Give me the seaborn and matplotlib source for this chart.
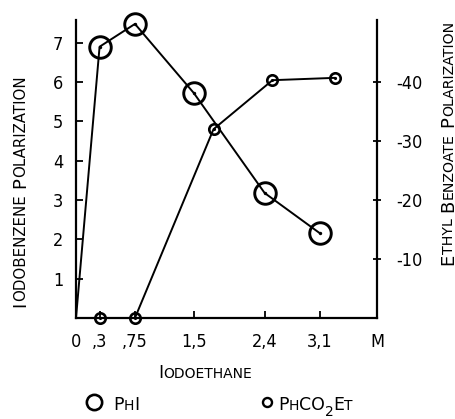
import matplotlib
matplotlib.use("Agg")
import matplotlib.pyplot as plt
import seaborn as sns
import pandas as pd
from matplotlib import font_manager
from matplotlib.lines import Line2D

# Iodobenzene polarization (left axis) vs. iodoethane concentration
conc_phi = [0, 0.3, 0.75, 1.5, 2.4, 3.1]
pol_phi = [0, 6.9, 7.48, 5.72, 3.18, 2.16]

# Ethyl benzoate polarization (right axis, negative values)
conc_ester = [0.3, 0.75, 1.75, 2.5, 3.3]
pol_ester = [0, 0, -32, -40.3, -40.7]

x_ticks = [0, 0.3, 0.75, 1.5, 2.4, 3.1]
x_tick_labels = ["0", ",3", ",75", "1,5", "2,4", "3,1"]
unit_label = "M"
left_ticks = [1, 2, 3, 4, 5, 6, 7]
right_ticks = [-10, -20, -30, -40]

W, H = 456, 419
X_MAX = 3.83

sns.set_style("ticks")
available = {f.name for f in font_manager.fontManager.ttflist}
tick_font = "Liberation Sans Narrow" if "Liberation Sans Narrow" in available else "DejaVu Sans"
plt.rcParams["font.family"] = [tick_font, "DejaVu Sans"]
plt.rcParams["font.stretch"] = "condensed"
plt.rcParams["axes.unicode_minus"] = False
LABEL_FONT = "DejaVu Sans"

fig = plt.figure(figsize=(W / 100, H / 100), dpi=100)
ax = fig.add_axes([76 / W, 1 - 318 / H, 301 / W, 298 / H])
ax2 = ax.twinx()

df_phi = pd.DataFrame({"conc": conc_phi, "pol": pol_phi})
df_est = pd.DataFrame({"conc": conc_ester, "pol": pol_ester})

sns.lineplot(data=df_phi, x="conc", y="pol", ax=ax, color="black", lw=1.4,
             estimator=None, errorbar=None, marker="o",
             markevery=list(range(1, len(conc_phi))), ms=15.5, mfc="none",
             mec="black", mew=2.1, clip_on=False, zorder=3)
sns.scatterplot(x=conc_phi[1:], y=pol_phi[1:], ax=ax, s=6, color="black",
                linewidth=0, clip_on=False, zorder=4)

sns.lineplot(data=df_est, x="conc", y="pol", ax=ax2, color="black", lw=1.4,
             estimator=None, errorbar=None, marker="o", ms=7.5, mfc="none",
             mec="black", mew=1.9, clip_on=False, zorder=3)
sns.scatterplot(x=conc_ester, y=pol_ester, ax=ax2, s=5, color="black",
                linewidth=0, clip_on=False, zorder=4)

ax.set_xlim(0, X_MAX)
ax.set_ylim(0, 7.58)
ax2.set_ylim(0, -50.5)

ax.set_xticks(x_ticks + [X_MAX], x_tick_labels + [unit_label])
ax.set_yticks(left_ticks, [str(v) for v in left_ticks])
ax2.set_yticks(right_ticks, [str(v) for v in right_ticks])
ax.set_xlabel("")
ax.set_ylabel("")
ax2.set_ylabel("")

for name in ("top", "right"):
    ax.spines[name].set_visible(False)
for name in ("top", "left", "bottom"):
    ax2.spines[name].set_visible(False)
for sp in (ax.spines["left"], ax.spines["bottom"], ax2.spines["right"]):
    sp.set_linewidth(1.6)
    sp.set_color("black")

ax.tick_params(axis="y", direction="in", length=5, width=1.3, pad=9,
               labelsize=13, colors="black")
ax.tick_params(axis="x", direction="in", length=5, width=1.3, pad=11,
               labelsize=13, colors="black")
ax2.tick_params(axis="y", direction="inout", length=6, width=1.3, pad=11,
                labelsize=13, colors="black")

renderer = fig.canvas.get_renderer()
PX = fig.dpi / 72


def ink_width(s, size):
    t = fig.text(0, 0, s, fontsize=size, family=LABEL_FONT, fontstretch="normal")
    w = t.get_window_extent(renderer=renderer).width
    t.remove()
    return w


def small_caps(text, cx, cy, big, small, rotation=0, center=True):
    """Draw text with capitals at `big` pt and the remaining letters as
    capitals at `small` pt. `_x` makes x a subscript. Position in pixels
    from the top-left corner: the middle (or start) of the baseline."""
    runs = []
    i = 0
    while i < len(text):
        ch = text[i]
        if ch == "_":
            runs.append([text[i + 1], small, "sub"])
            i += 2
            continue
        if ch == " ":
            runs.append([" ", big, "space"])
            i += 1
            continue
        kind = "big" if (ch.isupper() or ch.isdigit()) else "small"
        size = big if kind == "big" else small
        if runs and runs[-1][2] == kind:
            runs[-1][0] += ch.upper()
        else:
            runs.append([ch.upper(), size, kind])
        i += 1

    advances = []
    for k, (s, size, kind) in enumerate(runs):
        if kind == "space":
            advances.append(0.38 * big * PX)
        elif k == len(runs) - 1:
            advances.append(ink_width(s, size))
        else:
            advances.append(ink_width(s + "H", size) - ink_width("H", size))
    total = sum(advances)
    pos = -total / 2 if center else 0.0
    for (s, size, kind), adv in zip(runs, advances):
        if kind != "space":
            off = 0.32 * big * PX if kind == "sub" else 0.0
            if rotation:
                px, py = cx - off, cy - pos
            else:
                px, py = cx + pos, cy + off
            fig.text(px / W, 1 - py / H, s, fontsize=size, family=LABEL_FONT,
                     fontstretch="normal", rotation=rotation,
                     rotation_mode="anchor", ha="left", va="baseline",
                     color="black")
        pos += adv


small_caps("Iodobenzene Polarization", 25, 191, 13, 10.8, rotation=90)
small_caps("Ethyl Benzoate Polarization", 453, 143, 13, 10.2, rotation=90)
small_caps("Iodoethane", 205, 378, 12.5, 10)

# Legend: one marker per series, labels set in small capitals beside them
handles = [
    Line2D([], [], ls="none", marker="o", ms=11, mfc="none", mec="black", mew=1.9),
    Line2D([], [], ls="none", marker="o", ms=6.5, mfc="none", mec="black", mew=1.7),
]
leg = fig.legend(handles, ["", ""], ncol=2, loc="center",
                 bbox_to_anchor=(180.5 / W, 1 - 403 / H), frameon=False,
                 handlelength=1.0, handletextpad=0, columnspacing=11.45,
                 borderpad=0, fontsize=10)
fig.canvas.draw()
series_names = ["PhI", "PhCO_2Et"]
gaps = [19, 11]
for h, name, gap in zip(leg.legend_handles, series_names, gaps):
    bb = h.get_window_extent(renderer=fig.canvas.get_renderer())
    hx = (bb.x0 + bb.x1) / 2
    small_caps(name, hx + gap, 410, 12.5, 10, center=False)

fig.savefig("out.png", dpi=100)
